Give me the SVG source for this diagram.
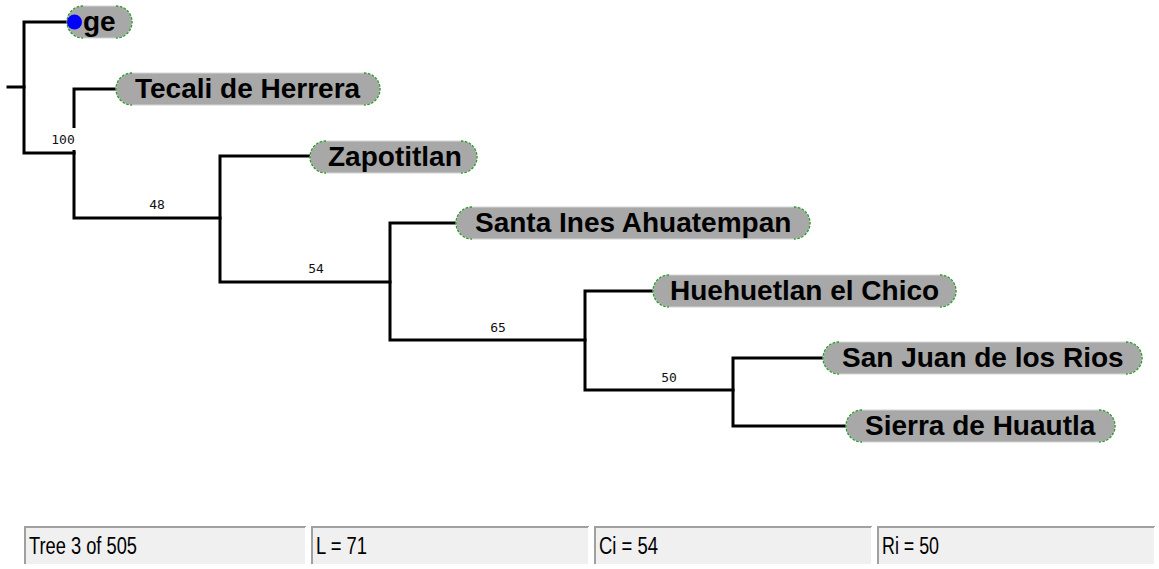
<svg xmlns="http://www.w3.org/2000/svg" width="1159" height="569" viewBox="0 0 1159 569">
<style>
.edge{fill:none;stroke:#000;stroke-width:3;stroke-linejoin:miter;stroke-linecap:square}
.pill{fill:#a8a8a8;stroke:#d4d4d4;stroke-width:1}
.cap{fill:none;stroke:#2f9a2f;stroke-width:1.4;stroke-dasharray:2.5 1.5}
.name{font-family:"Liberation Sans",Arial,sans-serif;font-weight:bold;font-size:28px;fill:#000}
.sup{font-family:"DejaVu Sans Mono","Liberation Mono",monospace;font-size:13px;fill:#111;text-anchor:middle}
.panel{fill:#f0f0f0}
.dark{stroke:#a0a0a0;stroke-width:2;fill:none}
.light{stroke:#ffffff;stroke-width:2;fill:none}
.stat{font-family:"Liberation Sans",Arial,sans-serif;font-size:23px;fill:#000}
</style>
<rect x="0" y="0" width="1159" height="569" fill="#fff"/>
<g id="connectors">
<path class="edge" d="M8 87 H24"/>
<path class="edge" d="M70 22 H24 V153 H74"/>
<path class="edge" d="M116 89 H74 V218 H220"/>
<path class="edge" d="M310 156 H220 V282 H390"/>
<path class="edge" d="M456 223 H390 V340 H585"/>
<path class="edge" d="M653 291 H585 V390 H733"/>
<path class="edge" d="M823 358 H733 V426 H846"/>
</g>
<g id="labels">
<rect x="50" y="128" width="27" height="22" fill="#fff"/>
<text class="sup" x="63" y="144">100</text>
<text class="sup" x="157" y="209">48</text>
<text class="sup" x="316" y="273">54</text>
<text class="sup" x="498" y="332">65</text>
<text class="sup" x="669" y="382">50</text>
</g>
<g id="node-ge">
<rect class="pill" x="67" y="6" width="65" height="32" rx="16"/>
<path class="cap" d="M83 6 A16 16 0 0 0 83 38 M116 6 A16 16 0 0 1 116 38"/>
<text class="name" x="83" y="31">ge</text>
<circle cx="74.5" cy="22" r="7.5" fill="#0000ff"/>
</g>
<g id="node-tecali">
<rect class="pill" x="116" y="73" width="264" height="32" rx="16"/>
<path class="cap" d="M132 73 A16 16 0 0 0 132 105 M364 73 A16 16 0 0 1 364 105"/>
<text class="name" x="135" y="98">Tecali de Herrera</text>
</g>
<g id="node-zapotitlan">
<rect class="pill" x="310" y="141" width="167" height="32" rx="16"/>
<path class="cap" d="M326 141 A16 16 0 0 0 326 173 M461 141 A16 16 0 0 1 461 173"/>
<text class="name" x="328" y="166">Zapotitlan</text>
</g>
<g id="node-santa-ines">
<rect class="pill" x="456" y="207" width="354" height="32" rx="16"/>
<path class="cap" d="M472 207 A16 16 0 0 0 472 239 M794 207 A16 16 0 0 1 794 239"/>
<text class="name" x="475" y="232">Santa Ines Ahuatempan</text>
</g>
<g id="node-huehuetlan">
<rect class="pill" x="653" y="275" width="303" height="32" rx="16"/>
<path class="cap" d="M669 275 A16 16 0 0 0 669 307 M940 275 A16 16 0 0 1 940 307"/>
<text class="name" x="670" y="300">Huehuetlan el Chico</text>
</g>
<g id="node-san-juan">
<rect class="pill" x="823" y="342" width="319" height="32" rx="16"/>
<path class="cap" d="M839 342 A16 16 0 0 0 839 374 M1126 342 A16 16 0 0 1 1126 374"/>
<text class="name" x="842" y="367">San Juan de los Rios</text>
</g>
<g id="node-sierra">
<rect class="pill" x="846" y="410" width="269" height="32" rx="16"/>
<path class="cap" d="M862 410 A16 16 0 0 0 862 442 M1099 410 A16 16 0 0 1 1099 442"/>
<text class="name" x="865" y="435">Sierra de Huautla</text>
</g>
<g id="status-bar">
<rect class="panel" x="24" y="526" width="282" height="39"/>
<path class="dark" d="M25 564 V527 H306"/>
<path class="light" d="M25 565 H306 V527"/>
<text class="stat" x="29" y="554" textLength="108" lengthAdjust="spacingAndGlyphs">Tree 3 of 505</text>
<rect class="panel" x="311" y="526" width="278" height="39"/>
<path class="dark" d="M312 564 V527 H589"/>
<path class="light" d="M312 565 H589 V527"/>
<text class="stat" x="316" y="554" textLength="51" lengthAdjust="spacingAndGlyphs">L = 71</text>
<rect class="panel" x="594" y="526" width="278" height="39"/>
<path class="dark" d="M595 564 V527 H872"/>
<path class="light" d="M595 565 H872 V527"/>
<text class="stat" x="599" y="554" textLength="59" lengthAdjust="spacingAndGlyphs">Ci = 54</text>
<rect class="panel" x="877" y="526" width="278" height="39"/>
<path class="dark" d="M878 564 V527 H1155"/>
<path class="light" d="M878 565 H1155 V527"/>
<text class="stat" x="882" y="554" textLength="57" lengthAdjust="spacingAndGlyphs">Ri = 50</text>
</g>
</svg>
